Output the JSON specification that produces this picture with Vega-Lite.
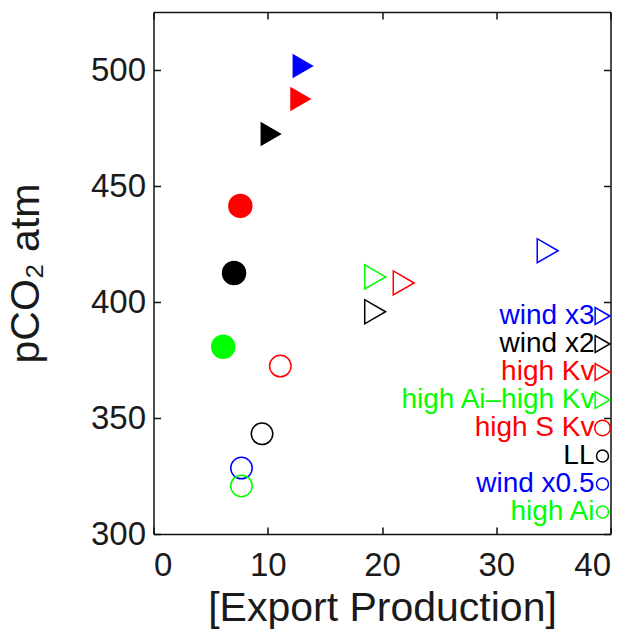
{
  "$schema": "https://vega.github.io/schema/vega-lite/v6.json",
  "autosize": {"type": "none"},
  "width": 457,
  "height": 522,
  "padding": {"left": 153.5, "top": 12, "right": 20.5, "bottom": 97},
  "background": "white",
  "config": {
    "font": "Liberation Sans",
    "view": {"stroke": null},
    "axis": {
      "grid": false,
      "domainColor": "#111",
      "domainWidth": 1.5,
      "tickColor": "#111",
      "tickWidth": 1.5,
      "tickSize": -7,
      "labelFont": "Liberation Sans",
      "labelFontSize": 33,
      "labelColor": "#1a1a1a",
      "titleFont": "Liberation Sans",
      "titleFontSize": 41,
      "titleFontWeight": "normal",
      "titleColor": "#1a1a1a"
    },
    "legend": {
      "orient": "none",
      "legendX": 435,
      "legendY": 290,
      "title": null,
      "padding": 0,
      "labelAlign": "right",
      "labelOffset": -22,
      "labelFont": "Liberation Sans",
      "labelFontSize": 28,
      "labelLimit": 400,
      "symbolStrokeWidth": 1.5,
      "symbolOpacity": 1,
      "rowPadding": -1
    }
  },
  "data": {
    "values": [
      {"series": "wind x3", "set": "open", "export": 34.5, "pco2": 422.1},
      {"series": "wind x2", "set": "open", "export": 19.4, "pco2": 395.8},
      {"series": "high Kv", "set": "open", "export": 21.9, "pco2": 408.2},
      {"series": "high Ai–high Kv", "set": "open", "export": 19.4, "pco2": 410.8},
      {"series": "high S Kv", "set": "open", "export": 11.1, "pco2": 372.4},
      {"series": "LL", "set": "open", "export": 9.5, "pco2": 343.2},
      {"series": "wind x0.5", "set": "open", "export": 7.7, "pco2": 328.4},
      {"series": "high Ai", "set": "open", "export": 7.7, "pco2": 320.7},
      {"series": "wind x3", "set": "solid", "export": 13.1, "pco2": 501.7},
      {"series": "high Kv", "set": "solid", "export": 12.9, "pco2": 487.5},
      {"series": "wind x2", "set": "solid", "export": 10.3, "pco2": 472.4},
      {"series": "high S Kv", "set": "solid", "export": 7.6, "pco2": 441.4},
      {"series": "LL", "set": "solid", "export": 7.05, "pco2": 412.5},
      {"series": "high Ai", "set": "solid", "export": 6.1, "pco2": 380.7}
    ]
  },
  "layer": [
    {
      "transform": [{"filter": "datum.set === 'open' && indexof(['wind x3','wind x2','high Kv','high Ai–high Kv'], datum.series) >= 0"}],
      "mark": {"type": "point", "filled": false, "opacity": 1, "strokeWidth": 1.5, "size": 580},
      "encoding": {
        "x": {"field": "export", "type": "quantitative", "scale": {"domain": [0, 40], "nice": false},
          "axis": {"orient": "bottom", "values": [0, 10, 20, 30, 40], "labelPadding": 22, "title": "[Export Production]", "titleX": 228.5, "titleY": 86, "titleBaseline": "alphabetic"}},
        "y": {"field": "pco2", "type": "quantitative", "scale": {"domain": [300, 525], "nice": false, "zero": false},
          "axis": {"orient": "left", "values": [300, 350, 400, 450, 500], "labelPadding": 15, "title": "pCO₂ atm", "titleX": -115, "titleY": 261, "titleBaseline": "alphabetic"}},
        "stroke": {
          "field": "series",
          "type": "nominal",
          "scale": {
            "domain": ["wind x3", "wind x2", "high Kv", "high Ai–high Kv", "high S Kv", "LL", "wind x0.5", "high Ai"],
            "range": ["#0000ff", "#000000", "#ff0000", "#00ff00", "#ff0000", "#000000", "#0000ff", "#00ff00"]
          },
          "legend": {
            "labelColor": {"expr": "scale('stroke', datum.value)"},
            "symbolFillColor": {"expr": "'transparent'"},
            "symbolStrokeColor": {"expr": "scale('stroke', datum.value)"},
            "symbolSize": {"expr": "datum.value === 'high S Kv' ? 240 : (indexof(['LL','wind x0.5','high Ai'], datum.value) >= 0 ? 144 : 289)"}
          }
        },
        "shape": {
          "field": "series",
          "type": "nominal",
          "scale": {
            "domain": ["wind x3", "wind x2", "high Kv", "high Ai–high Kv", "high S Kv", "LL", "wind x0.5", "high Ai"],
            "range": ["triangle-right", "triangle-right", "triangle-right", "triangle-right", "circle", "circle", "circle", "circle"]
          },
          "legend": {
            "labelColor": {"expr": "scale('stroke', datum.value)"},
            "symbolFillColor": {"expr": "'transparent'"},
            "symbolStrokeColor": {"expr": "scale('stroke', datum.value)"},
            "symbolSize": {"expr": "datum.value === 'high S Kv' ? 240 : (indexof(['LL','wind x0.5','high Ai'], datum.value) >= 0 ? 144 : 289)"}
          }
        }
      }
    },
    {
      "transform": [{"filter": "datum.set === 'open' && indexof(['high S Kv','LL','wind x0.5','high Ai'], datum.series) >= 0"}],
      "mark": {"type": "point", "filled": false, "opacity": 1, "strokeWidth": 1.5, "size": 462},
      "encoding": {
        "x": {"field": "export", "type": "quantitative", "axis": null},
        "y": {"field": "pco2", "type": "quantitative", "axis": null},
        "stroke": {"field": "series", "type": "nominal"},
        "shape": {"field": "series", "type": "nominal"}
      }
    },
    {
      "transform": [{"filter": "datum.set === 'solid'"}],
      "mark": {
        "type": "point",
        "filled": true,
        "opacity": 1,
        "strokeWidth": 0,
        "size": 600,
        "fill": {"expr": "scale('stroke', datum.series)"},
        "shape": {"expr": "scale('shape', datum.series)"}
      },
      "encoding": {
        "x": {"field": "export", "type": "quantitative", "axis": null},
        "y": {"field": "pco2", "type": "quantitative", "axis": null}
      }
    },
    {
      "mark": {"type": "point", "opacity": 0},
      "encoding": {
        "x": {"field": "export", "type": "quantitative",
          "axis": {"orient": "top", "values": [0, 10, 20, 30, 40], "labels": false, "title": null}},
        "y": {"field": "pco2", "type": "quantitative",
          "axis": {"orient": "right", "values": [300, 350, 400, 450, 500], "labels": false, "title": null}}
      }
    }
  ],
  "resolve": {"axis": {"x": "independent", "y": "independent"}}
}
